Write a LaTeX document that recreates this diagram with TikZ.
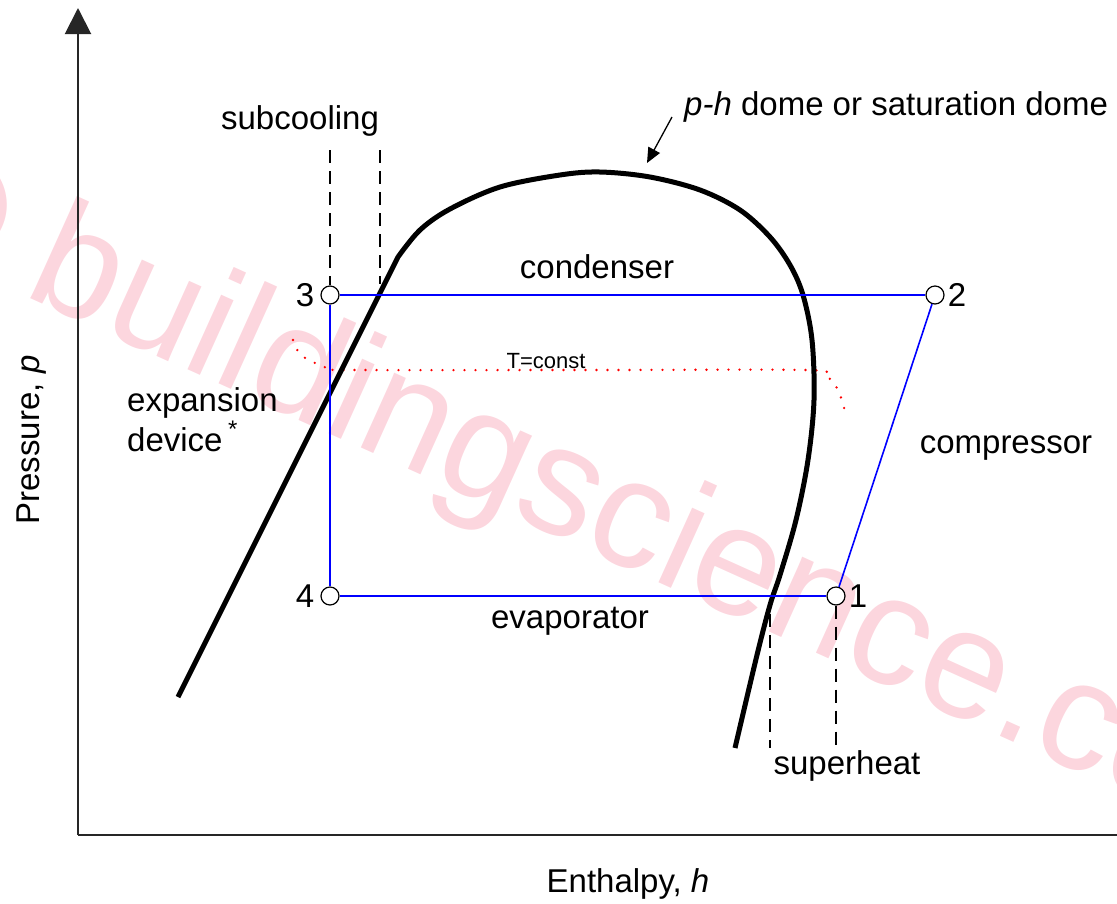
\documentclass[tikz,border=0pt]{standalone}
\usepackage{fontspec}
\setmainfont{Liberation Sans}
\usetikzlibrary{positioning,arrows.meta}
\definecolor{wmark}{RGB}{252,214,222}
\begin{document}
\begin{tikzpicture}
	[x=1pt, y=-1pt,
	lbl/.style={font=\fontsize{33}{40}\selectfont, inner sep=0pt},
	state/.style={circle, draw, fill=white, inner sep=0pt, minimum size=18pt, line width=1.2pt},
	cycle/.style={blue, line width=1.6pt},
	guide/.style={line width=1.3pt, dash pattern=on 13pt off 8pt},
	dome/.style={line width=5pt, line join=round},
	axis/.style={line width=2pt, draw=black!85}]
	\useasboundingbox (0,0) rectangle (1117,903);
	% watermark
	\begin{scope}
		\clip (0,0) rectangle (1117,903);
		\node[wmark, font=\fontsize{155}{160}\selectfont, rotate=-24.3, anchor=base west, inner sep=0pt]
			(wm) at (-122,230) {© buildingscience.com};
	\end{scope}
	% axes
	\coordinate (o) at (78,835);
	\coordinate (ytop) at (78,8);
	\coordinate (xend) at (1117,835);
	\draw[axis] (o) -- (xend);
	\draw[axis, -{Triangle[width=26pt,length=26pt]}] (o) -- (ytop);
	\node[lbl, rotate=90] (ylab) at (32,440) {Pressure, \textit{p}};
	\node[lbl] (xlab) at (628,884) {Enthalpy, \textit{h}};
	% constant temperature line
	\draw[red, line width=2.6pt, line cap=round, dash pattern=on 0pt off 11pt]
		plot[smooth, tension=0.6] coordinates {(293,340) (300,354) (315,363) (332,369) (360,370)
		(600,370) (805,370) (825,375) (838,390) (846,415)};
	\node[font=\fontsize{22}{26}\selectfont, inner sep=0pt] (tc) at (546,361) {T=const};
	% saturation dome
	\draw[dome] (178,697) -- (398,257)
		plot[smooth, tension=0.55] coordinates {(398,257) (420,230) (450,209) (500,187) (560,175)
		(600,172) (650,177) (700,190) (740,210) (770,237) (790,265) (803,295) (812,340)
		(814,400) (808,460) (796,520) (780,575) (770,605) (757,655) (735,748)};
	% cycle
	\node[state] (p3) at (330,295) {};
	\node[state] (p2) at (935,295) {};
	\node[state] (p1) at (836,596) {};
	\node[state] (p4) at (330,596) {};
	\draw[cycle] (p3) -- (p2);
	\draw[cycle] (p2) -- (p1);
	\draw[cycle] (p1) -- (p4);
	\draw[cycle] (p4) -- (p3);
	\node[lbl, left=6pt of p3] (n3) {3};
	\node[lbl, right=3pt of p2] (n2) {2};
	\node[lbl, right=3pt of p1] (n1) {1};
	\node[lbl, left=6pt of p4] (n4) {4};
	% subcooling and superheat
	\coordinate (sc1) at (330,150);
	\coordinate (sc2) at (380,150);
	\coordinate (sc3) at (380,284);
	\coordinate (sh1) at (770,614);
	\coordinate (sh2) at (770,748);
	\coordinate (sh3) at (836,748);
	\draw[guide] (sc1) -- (p3);
	\draw[guide] (sc2) -- (sc3);
	\draw[guide] (sh1) -- (sh2);
	\draw[guide] (p1) -- (sh3);
	\node[lbl] (subc) at (300,121) {subcooling};
	\node[lbl] (suph) at (847,766) {superheat};
	% labels
	\node[lbl] (cond) at (597,267) {condenser};
	\node[lbl] (evap) at (570,621) {evaporator};
	\node[lbl] (comp) at (1006,448) {compressor};
	\node[lbl, align=left, anchor=west] (exp) at (127,420)
		{expansion\\device\,\raisebox{0.42em}{\fontsize{24}{24}\selectfont*}};
	\node[lbl, anchor=west] (domelab) at (684,107) {\textit{p-h} dome or saturation dome};
	\coordinate (dtip) at (647,163);
	\draw[line width=1.3pt, -{Triangle[width=13pt,length=15pt]}] (672,117) -- (dtip);
\end{tikzpicture}
\end{document}
